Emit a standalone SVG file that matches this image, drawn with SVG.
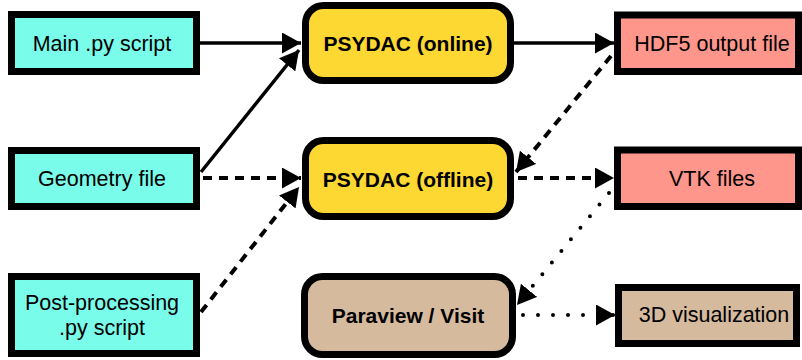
<svg xmlns="http://www.w3.org/2000/svg" width="802" height="360" viewBox="0 0 802 360">
<style>
  .box { stroke: #000; stroke-width: 7; }
  .in { fill: #79FCEA; }
  .core { fill: #FDD832; }
  .out { fill: #FF968C; }
  .vis { fill: #D5BA9E; }
  text { font-family: "Liberation Sans", Arial, Helvetica, sans-serif; font-size: 21.5px; fill: #000; text-anchor: middle; }
  .b { font-weight: bold; font-size: 21px; }
  .c { stroke: #000; stroke-width: 3.5; fill: none; marker-end: url(#ah); }
  .dash { stroke-dasharray: 9 7; stroke-width: 4; }
  .dot { stroke-dasharray: 0 15; stroke-linecap: round; stroke-width: 4; }
</style>
<defs>
  <marker id="ah" markerUnits="userSpaceOnUse" markerWidth="19" markerHeight="21" refX="19" refY="10.5" orient="auto" viewBox="0 0 19 21">
    <path d="M0,0 L19,10.5 L0,21 z" fill="#000" stroke="none"/>
  </marker>
</defs>
<g id="connectors">
  <line class="c" x1="200" y1="43" x2="301" y2="43"/>
  <line class="c" x1="201" y1="172" x2="299" y2="50"/>
  <line class="c dash" x1="203" y1="178" x2="301" y2="178"/>
  <line class="c dash" x1="201" y1="312" x2="299" y2="187"/>
  <line class="c" x1="514" y1="43" x2="614" y2="43"/>
  <line class="c dash" x1="611" y1="56" x2="516" y2="172"/>
  <line class="c dash" x1="518" y1="178" x2="614" y2="178"/>
  <line class="c dot" x1="609" y1="193" x2="517" y2="305"/>
  <line class="c dot" x1="523" y1="315" x2="615" y2="315"/>
</g>
<g id="main">
  <rect class="box in" x="11.5" y="14.5" width="185" height="57"/>
  <text x="102" y="50.5">Main .py script</text>
</g>
<g id="geometry">
  <rect class="box in" x="11.5" y="150.5" width="185" height="56"/>
  <text x="102" y="185.5">Geometry file</text>
</g>
<g id="postprocessing">
  <rect class="box in" x="11.5" y="276.5" width="185" height="77"/>
  <text x="102" y="310">Post-processing</text>
  <text x="102" y="335">.py script</text>
</g>
<g id="psydac-online">
  <rect class="box core" x="305.5" y="5.5" width="205" height="75" rx="18"/>
  <text class="b" x="408" y="50.5">PSYDAC (online)</text>
</g>
<g id="psydac-offline">
  <rect class="box core" x="305.5" y="140.5" width="205" height="76" rx="18"/>
  <text class="b" x="408" y="186.5">PSYDAC (offline)</text>
</g>
<g id="paraview">
  <rect class="box vis" x="304.5" y="276.5" width="208" height="78" rx="18"/>
  <text class="b" x="408" y="322.5">Paraview / Visit</text>
</g>
<g id="hdf5">
  <rect class="box out" x="617.5" y="15" width="181" height="56.5"/>
  <text x="712" y="50.5">HDF5 output file</text>
</g>
<g id="vtk">
  <rect class="box out" x="617.5" y="150" width="181" height="56.5"/>
  <text x="712" y="185.5">VTK files</text>
</g>
<g id="viz3d">
  <rect class="box vis" x="618.5" y="287.5" width="178" height="56"/>
  <text x="714" y="322">3D visualization</text>
</g>
</svg>
